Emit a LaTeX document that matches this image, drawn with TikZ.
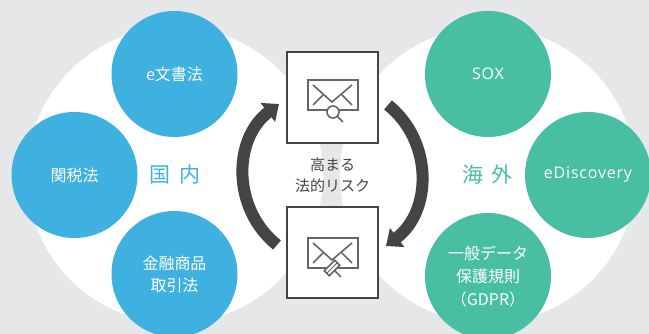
\documentclass[tikz,border=0pt]{standalone}
\usepackage{fontspec}
\setmainfont{Noto Sans CJK JP}
\newfontfamily\latinfont[LetterSpace=5]{Open Sans}
\usetikzlibrary{arrows.meta}
\definecolor{pagegray}{HTML}{E6E7E9}
\definecolor{lawblue}{HTML}{3FB1E0}
\definecolor{lawgreen}{HTML}{48BFA3}
\definecolor{boxdark}{HTML}{444444}
\definecolor{icongray}{HTML}{666666}
\tikzset{
  region/.style={shape=circle,fill=white,minimum size=296pt,inner sep=0pt},
  lawblob/.style={shape=circle,minimum size=126pt,inner sep=0pt,text=white,align=center,font=\fontsize{16}{22}\selectfont},
  riskbox/.style={shape=rectangle,draw=boxdark,line width=2pt,fill=white,minimum size=91pt,inner sep=0pt},
  envelope/.style={shape=rectangle,draw=icongray,line width=2pt,fill=white,minimum width=50pt,minimum height=30pt,inner sep=0pt},
  bigarrow/.style={draw=boxdark,line width=12pt,-{Triangle[width=23pt,length=14pt]}},
  iconline/.style={draw=icongray,line width=1.6pt},
  bigword/.style={font=\fontsize{21}{24}\selectfont}
}
\begin{document}
\begin{tikzpicture}[x=1pt,y=1pt]
    \useasboundingbox (0,0) rectangle (649,334);
    \clip (0,0) rectangle (649,334);
    \fill[pagegray] (0,0) rectangle (649,334);%

    \node[region] (RL) at (175,159) {};%
    \node[region] (RR) at (488,159) {};%

    \node[lawblob,fill=lawblue] (B1) at (174.5,260) {e文書法};%
    \node[lawblob,fill=lawblue] (B2) at (74.5,159) {関税法};%
    \node[lawblob,fill=lawblue] (B3) at (174.5,60) {金融商品\\取引法};%
    \node[lawblob,fill=lawgreen] (G1) at (488,260) {\latinfont SOX};%
    \node[lawblob,fill=lawgreen] (G2) at (588,159) {\latinfont eDiscovery};%
    \node[lawblob,fill=lawgreen,font=\fontsize{16}{23}\selectfont] (G3) at (488,58) {一般データ\\保護規則\\（GDPR）};%

    \node[text=lawblue,bigword] (DOM) at (175,159) {国\hspace{9pt}内};%
    \node[text=lawgreen,bigword] (OVS) at (487.5,159) {海\hspace{8pt}外};%

    \node[riskbox] (TB) at (332.5,236.5) {};%
    \node[riskbox] (BB) at (332.5,81.5) {};%
    \node[text=boxdark,align=center,font=\fontsize{15}{21}\selectfont] (RISK) at (332.5,159) {高まる\\法的リスク};%

    \coordinate (LA) at (277,89);%
    \coordinate (LB) at (279,230);%
    \coordinate (RA) at (388,229);%
    \coordinate (RB) at (386,88);%
    \draw[bigarrow] (LA) to[bend left=52,looseness=1.05] (LB);%
    \draw[bigarrow] (RA) to[bend left=52,looseness=1.05] (RB);%

    % top icon
    \node[envelope] (E1) at (332.5,239) {};%
    \coordinate (E1a) at (313,249);%
    \coordinate (E1b) at (332,232);%
    \coordinate (E1c) at (352,249);%
    \coordinate (E1d) at (313,229);%
    \coordinate (E1e) at (323,239);%
    \coordinate (E1f) at (342,239);%
    \coordinate (E1g) at (352,229);%
    \draw[iconline] (E1a) -- (E1b) -- (E1c);%
    \draw[iconline] (E1d) -- (E1e);%
    \draw[iconline] (E1f) -- (E1g);%
    \coordinate (H1) at (343,212);%
    \coordinate (H0) at (333,222);%
    \draw[iconline] (H0) -- (H1);%
    \node[shape=circle,draw=icongray,line width=1.6pt,fill=white,minimum size=12pt,inner sep=0pt] (LENS) at (333,222) {};%

    % bottom icon
    \node[envelope] (E2) at (332.5,81) {};%
    \coordinate (E2a) at (313,91);%
    \coordinate (E2b) at (332,74);%
    \coordinate (E2c) at (352,91);%
    \coordinate (E2d) at (313,71);%
    \coordinate (E2e) at (323,81);%
    \coordinate (E2f) at (342,81);%
    \coordinate (E2g) at (352,71);%
    \draw[iconline] (E2a) -- (E2b) -- (E2c);%
    \draw[iconline] (E2d) -- (E2e);%
    \draw[iconline] (E2f) -- (E2g);%
    \coordinate (H2) at (341,57);%
    \coordinate (H3) at (333,65);%
    \draw[iconline] (H3) -- (H2);%
    \node[shape=rectangle,rotate=-45,draw=icongray,line width=1.6pt,fill=white,minimum width=7pt,minimum height=15pt,inner sep=0pt] (HEAD) at (332,66) {};%
    \draw[icongray,line width=1pt] (HEAD.north) -- (HEAD.south);%
\end{tikzpicture}
\end{document}
